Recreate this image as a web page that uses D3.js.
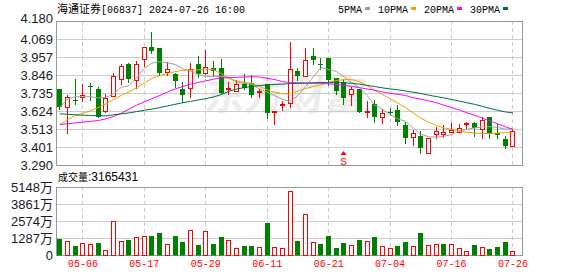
<!DOCTYPE html>
<html>
<head>
<meta charset="utf-8">
<script src="https://cdn.jsdelivr.net/npm/d3@7"></script>
<style>
  body { margin: 0; background: #fff; }
  svg text { font-family: "Liberation Sans", "Noto Sans CJK SC", sans-serif; }
</style>
</head>
<body>
<div id="chart"></div>
<script>
// trading days shown (HK market)
const dates = ["04-30","05-02","05-03","05-06","05-07","05-08","05-09","05-10","05-13","05-14",
  "05-16","05-17","05-20","05-21","05-22","05-23","05-24","05-27","05-28","05-29",
  "05-30","05-31","06-03","06-04","06-05","06-06","06-07","06-11","06-12","06-13",
  "06-14","06-17","06-18","06-19","06-20","06-21","06-24","06-25","06-26","06-27",
  "06-28","07-02","07-03","07-04","07-05","07-08","07-09","07-10","07-11","07-12",
  "07-15","07-16","07-17","07-18","07-19","07-22","07-23","07-24","07-25","07-26"];

const open  = [3.760,3.647,3.690,3.709,3.781,3.760,3.622,3.718,3.823,3.912,
  3.815,3.943,4.019,4.013,3.865,3.855,3.760,3.764,3.914,3.857,
  3.891,3.891,3.762,3.749,3.789,3.795,3.741,3.791,3.620,3.661,
  3.671,3.873,3.842,3.964,3.913,3.951,3.826,3.805,3.731,3.758,
  3.620,3.665,3.585,3.620,3.630,3.537,3.461,3.469,3.366,3.480,
  3.480,3.492,3.496,3.542,3.552,3.511,3.587,3.490,3.451,3.409];
const high  = [3.762,3.721,3.822,3.793,3.795,3.774,3.727,3.857,3.916,3.922,
  3.933,4.020,4.110,4.015,3.929,3.857,3.805,3.919,3.966,4.000,
  3.935,3.943,3.801,3.817,3.852,3.846,3.760,3.793,3.625,3.686,
  4.050,3.891,4.015,4.011,3.953,3.953,3.830,3.820,3.774,3.760,
  3.686,3.692,3.636,3.640,3.661,3.558,3.506,3.500,3.458,3.527,
  3.537,3.548,3.541,3.558,3.553,3.589,3.589,3.543,3.469,3.506];
const low   = [3.635,3.490,3.667,3.686,3.692,3.585,3.620,3.715,3.790,3.805,
  3.764,3.904,3.982,3.846,3.846,3.772,3.678,3.712,3.834,3.855,
  3.846,3.731,3.729,3.748,3.760,3.712,3.712,3.579,3.542,3.630,
  3.650,3.813,3.840,3.912,3.882,3.785,3.729,3.667,3.661,3.618,
  3.589,3.558,3.551,3.599,3.537,3.424,3.414,3.366,3.366,3.455,
  3.465,3.491,3.494,3.511,3.471,3.455,3.455,3.455,3.397,3.409];
const close = [3.650,3.710,3.684,3.720,3.776,3.587,3.706,3.840,3.900,3.823,
  3.912,4.019,3.996,3.861,3.882,3.807,3.725,3.882,3.852,3.898,
  3.871,3.733,3.767,3.791,3.766,3.723,3.745,3.613,3.624,3.667,
  3.882,3.842,3.941,3.941,3.909,3.815,3.747,3.702,3.758,3.620,
  3.624,3.585,3.610,3.612,3.558,3.457,3.490,3.393,3.455,3.502,
  3.492,3.504,3.517,3.550,3.521,3.566,3.480,3.475,3.409,3.500];

// moving averages as drawn on the chart
const ma5  = [3.648,3.698,3.712,3.712,3.712,3.705,3.708,3.730,3.770,3.780,
  3.828,3.888,3.920,3.928,3.922,3.912,3.885,3.870,3.850,3.836,
  3.836,3.838,3.832,3.800,3.795,3.788,3.760,3.740,3.718,3.695,
  3.682,3.720,3.775,3.835,3.892,3.880,3.868,3.835,3.800,3.768,
  3.720,3.660,3.635,3.600,3.575,3.560,3.520,3.480,3.465,3.462,
  3.468,3.478,3.500,3.510,3.520,3.525,3.527,3.522,3.512,3.514];
const ma10 = [3.540,3.570,3.595,3.610,3.625,3.645,3.668,3.695,3.720,3.742,
  3.768,3.797,3.825,3.842,3.855,3.867,3.875,3.877,3.878,3.882,
  3.880,3.855,3.825,3.810,3.800,3.795,3.775,3.755,3.740,3.730,
  3.728,3.748,3.762,3.775,3.785,3.800,3.812,3.818,3.818,3.805,
  3.780,3.752,3.725,3.700,3.672,3.645,3.612,3.580,3.555,3.535,
  3.520,3.510,3.500,3.492,3.488,3.485,3.485,3.487,3.490,3.490];
const ma20 = [3.540,3.545,3.550,3.555,3.560,3.565,3.575,3.590,3.610,3.635,
  3.660,3.680,3.700,3.720,3.740,3.760,3.775,3.790,3.800,3.810,
  3.820,3.828,3.830,3.832,3.834,3.836,3.834,3.826,3.818,3.805,
  3.800,3.798,3.796,3.795,3.795,3.792,3.788,3.782,3.776,3.768,
  3.760,3.752,3.742,3.733,3.727,3.720,3.706,3.697,3.687,3.675,
  3.660,3.645,3.630,3.613,3.598,3.580,3.562,3.545,3.527,3.510];
const ma30 = [3.606,3.604,3.600,3.598,3.596,3.594,3.594,3.600,3.606,3.612,
  3.620,3.628,3.636,3.645,3.655,3.665,3.675,3.683,3.692,3.700,
  3.710,3.725,3.745,3.760,3.768,3.776,3.781,3.785,3.788,3.790,
  3.793,3.795,3.796,3.798,3.800,3.801,3.800,3.798,3.795,3.790,
  3.782,3.775,3.767,3.760,3.755,3.748,3.740,3.732,3.722,3.713,
  3.705,3.695,3.685,3.675,3.665,3.653,3.640,3.628,3.618,3.612];

// volume in 万 shares, last value is the live figure
const volume = [1211,1035,681,934,808,934,353,2570,1035,1110,
  1362,1438,1438,1665,833,1463,984,1867,757,1817,
  833,1387,1110,530,707,707,606,2447,606,530,
  4845,1060,3079,984,833,1438,555,908,757,1135,
  1035,1362,681,530,681,984,681,1665,757,833,
  833,833,530,303,757,606,454,606,984,316.5431];
// 1 = up day (red hollow bar), 0 = down day (green bar)
const volUp = [0,1,0,1,1,0,1,1,1,0, 1,1,0,0,1,0,0,1,0,1,
  0,0,1,1,0,0,1,0,1,1, 1,0,1,1,0,0,0,0,1,0,
  1,0,1,1,0,0,1,0,1,1, 0,1,1,1,0,1,0,0,0,1];

const priceTicks = [3.290,3.401,3.513,3.624,3.735,3.846,3.957,4.069,4.180];
const volTicks = [0,1287,2574,3861,5148];
const dateTicks = ["05-06","05-17","05-29","06-11","06-21","07-04","07-16","07-26"];
const maNames = ["5PMA","10PMA","20PMA","30PMA"];
const maColors = ["#a0a0a0","#f0a000","#ff00ff","#00703a"];
const signals = [{date: "06-25", label: "S"}];

const width = 578, height = 276;
const left = 56, right = 522;
const pTop = 21, pBottom = 165, vTop = 187, vBottom = 255;
const red = "#ff0000", green = "#008000", grid = "#cccccc", frame = "#999999";

const svg = d3.select("#chart").append("svg")
  .attr("width", width)
  .attr("height", height);

const x = d3.scaleBand().domain(dates).range([left, left + dates.length * 7.68]);
const mid = d => x(d) + x.bandwidth() / 2;
const px = d => Math.round(mid(d) - 0.5) + 0.5;   // crisp 1px wick position
const crisp = v => Math.round(v) + 0.5;

const y = d3.scaleLinear().domain([3.29, 4.18]).range([pBottom, pTop]);
const yv = d3.scaleLinear().domain([0, 5148]).range([vBottom, vTop]);

// watermark
svg.append("text")
  .attr("x", 285).attr("y", 110)
  .attr("text-anchor", "middle")
  .attr("transform", "skewX(-8) translate(14,0)")
  .style("font-family", "'Noto Sans CJK SC'")
  .style("font-size", "40px")
  .style("font-weight", "bold")
  .style("fill", "#ececec")
  .text("东方财富");

// horizontal grid
svg.append("g").selectAll("line")
  .data(priceTicks.slice(1, -1))
  .enter().append("line")
  .attr("x1", left).attr("x2", right)
  .attr("y1", d => crisp(y(d))).attr("y2", d => crisp(y(d)))
  .attr("stroke", grid);

svg.append("g").selectAll("line")
  .data(volTicks.slice(1, -1))
  .enter().append("line")
  .attr("x1", left).attr("x2", right)
  .attr("y1", d => crisp(yv(d))).attr("y2", d => crisp(yv(d)))
  .attr("stroke", grid);

// vertical dashed grid in both panels
[[pTop, pBottom], [vTop, vBottom]].forEach(([a, b]) => {
  svg.append("g").selectAll("line")
    .data(dateTicks)
    .enter().append("line")
    .attr("x1", px).attr("x2", px)
    .attr("y1", a).attr("y2", b)
    .attr("stroke", grid)
    .attr("stroke-dasharray", "4,3");
});

// frames
svg.append("rect")
  .attr("x", left + 0.5).attr("y", pTop + 0.5)
  .attr("width", right - left).attr("height", pBottom - pTop)
  .attr("fill", "none").attr("stroke", frame);
svg.append("rect")
  .attr("x", left + 0.5).attr("y", vTop + 0.5)
  .attr("width", right - left).attr("height", vBottom - vTop)
  .attr("fill", "none").attr("stroke", frame);

// y axes
svg.append("g")
  .attr("transform", `translate(${left},0)`)
  .call(d3.axisLeft(y).tickValues(priceTicks).tickFormat(d3.format(".3f")).tickSize(0).tickPadding(3))
  .call(g => g.select(".domain").remove())
  .call(g => g.selectAll("text").style("font-size", "13px").style("fill", "#1a1a2a")
    .attr("dy", d => d === 4.18 ? "0.1em" : "0.35em"));

svg.append("g")
  .attr("transform", `translate(${left},0)`)
  .call(d3.axisLeft(yv).tickValues(volTicks).tickFormat(d => d === 0 ? "0" : d + "万").tickSize(0).tickPadding(3))
  .call(g => g.select(".domain").remove())
  .call(g => g.selectAll("text").style("font-size", "13px").style("fill", "#1a1a2a").attr("dy", "0.35em"));

// x axis labels
svg.append("g")
  .attr("transform", `translate(0,${vBottom})`)
  .call(d3.axisBottom(x).tickValues(dateTicks).tickSize(0).tickPadding(5))
  .call(g => g.select(".domain").remove())
  .call(g => g.selectAll("text")
    .style("font-family", "'Liberation Mono', monospace")
    .style("font-size", "10px")
    .style("fill", red));

// candles
const idx = d3.range(dates.length);
const candles = svg.append("g").selectAll("g")
  .data(idx)
  .enter().append("g");

candles.append("line")
  .attr("x1", i => px(dates[i])).attr("x2", i => px(dates[i]))
  .attr("y1", i => Math.round(y(high[i])))
  .attr("y2", i => Math.round(y(low[i])) + 1)
  .attr("stroke", i => close[i] >= open[i] ? red : green);

candles.append("rect")
  .each(function(i) {
    const up = close[i] >= open[i];
    const t = Math.round(y(Math.max(open[i], close[i])));
    const b = Math.round(y(Math.min(open[i], close[i])));
    const r = d3.select(this);
    if (up) {
      r.attr("x", px(dates[i]) - 2).attr("width", 4)
        .attr("y", t + 0.5).attr("height", Math.max(b - t, 1))
        .attr("fill", "#fff").attr("stroke", red);
    } else {
      r.attr("x", px(dates[i]) - 2.5).attr("width", 5)
        .attr("y", t).attr("height", Math.max(b - t, 1))
        .attr("fill", green);
    }
  });

// moving averages
[ma5, ma10, ma20, ma30].forEach((series, k) => {
  svg.append("path")
    .datum(series)
    .attr("fill", "none")
    .attr("stroke", maColors[k])
    .attr("stroke-width", 1)
    .attr("d", d3.line().x((d, i) => mid(dates[i])).y(d => y(d)));
});

// signal markers
signals.forEach(s => {
  const sx = px(s.date);
  svg.append("path")
    .attr("d", `M${sx},151 L${sx - 3},155 L${sx + 3},155 Z`)
    .attr("fill", red);
  svg.append("text")
    .attr("x", sx).attr("y", 165)
    .attr("text-anchor", "middle")
    .style("font-family", "'Liberation Mono', monospace")
    .style("font-size", "11px")
    .style("fill", red)
    .text(s.label);
});

// volume bars
svg.append("g").selectAll("rect")
  .data(idx)
  .enter().append("rect")
  .each(function(i) {
    const t = Math.round(yv(volume[i]));
    const r = d3.select(this);
    if (volUp[i]) {
      r.attr("x", px(dates[i]) - 2).attr("width", 4)
        .attr("y", t + 0.5).attr("height", vBottom - t)
        .attr("fill", "#fff").attr("stroke", red);
    } else {
      r.attr("x", px(dates[i]) - 2.5).attr("width", 5)
        .attr("y", t).attr("height", vBottom - t + 0.5)
        .attr("fill", green);
    }
  });

// title
const title = svg.append("text").attr("x", 57).attr("y", 13).style("fill", "#000");
title.append("tspan").style("font-family", "'Noto Sans CJK SC'").style("font-size", "11px").text("海通证券");
title.append("tspan").style("font-family", "'Liberation Mono', monospace").style("font-size", "10px")
  .text("[06837] 2024-07-26 16:00");

// legend
let lx = 338;
maNames.forEach((name, k) => {
  const t = svg.append("text")
    .attr("x", lx).attr("y", 13)
    .style("font-family", "'Liberation Mono', monospace")
    .style("font-size", "10px")
    .style("fill", "#000")
    .text(name);
  const w = t.node().getComputedTextLength();
  svg.append("rect")
    .attr("x", lx + w + 3).attr("y", 7)
    .attr("width", 5).attr("height", 3)
    .attr("fill", maColors[k]);
  lx += w + 3 + 5 + 8;
});

// volume label
const vl = svg.append("text").attr("x", 58).attr("y", 181).style("fill", "#000");
vl.append("tspan").style("font-family", "'Noto Sans CJK SC'").style("font-size", "10px").text("成交量");
vl.append("tspan").style("font-size", "12px").text(":" + Math.round(volume[volume.length - 1] * 10000));
</script>
</body>
</html>
